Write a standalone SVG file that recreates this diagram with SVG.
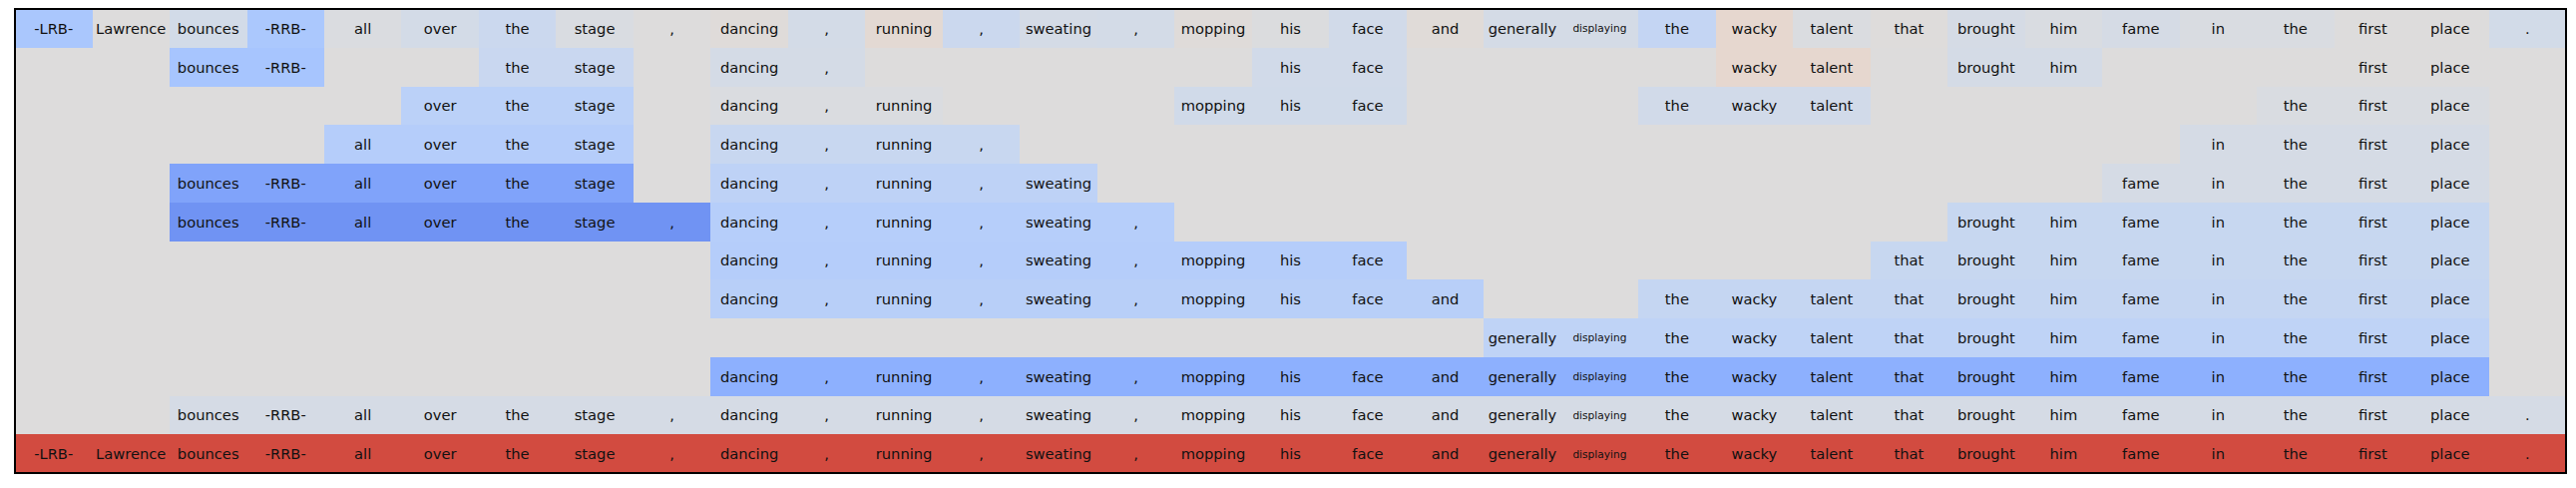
<svg xmlns="http://www.w3.org/2000/svg" width="2582" height="489" viewBox="0 0 2582 489">
<style>
text{font-family:"DejaVu Sans","Noto Sans",sans-serif;font-size:14.7px;text-anchor:middle;dominant-baseline:central;fill:#111}
text.s{font-size:10.6px}
rect{shape-rendering:crispEdges}
</style>
<rect x="0" y="0" width="2582" height="489" fill="#ffffff"/>
<rect x="15" y="9" width="2557" height="465" fill="#dddcdc"/>
<g id="row0" transform="translate(0,9)">
<rect x="15" y="0" width="77.5" height="38.75" fill="#aac7fd"/>
<rect x="92.5" y="0" width="77.5" height="38.75" fill="#dddcdc"/>
<rect x="170" y="0" width="77.5" height="38.75" fill="#d2dbe8"/>
<rect x="247.5" y="0" width="77.4" height="38.75" fill="#abc8fd"/>
<rect x="324.9" y="0" width="77.5" height="38.75" fill="#dadce0"/>
<rect x="402.4" y="0" width="77.5" height="38.75" fill="#d3dbe7"/>
<rect x="479.9" y="0" width="77.5" height="38.75" fill="#cbd8ee"/>
<rect x="557.4" y="0" width="77.5" height="38.75" fill="#d9dce1"/>
<rect x="634.9" y="0" width="77.5" height="38.75" fill="#dddcdc"/>
<rect x="712.4" y="0" width="77.5" height="38.75" fill="#dfdbd9"/>
<rect x="789.9" y="0" width="77.4" height="38.75" fill="#d3dbe7"/>
<rect x="867.3" y="0" width="77.5" height="38.75" fill="#e3d9d3"/>
<rect x="944.8" y="0" width="77.5" height="38.75" fill="#cbd8ee"/>
<rect x="1022.3" y="0" width="77.5" height="38.75" fill="#d4dbe6"/>
<rect x="1099.8" y="0" width="77.5" height="38.75" fill="#d3dbe7"/>
<rect x="1177.3" y="0" width="77.5" height="38.75" fill="#dfdbd9"/>
<rect x="1254.8" y="0" width="77.4" height="38.75" fill="#dbdcde"/>
<rect x="1332.2" y="0" width="77.5" height="38.75" fill="#d1dae9"/>
<rect x="1409.7" y="0" width="77.5" height="38.75" fill="#e0dbd8"/>
<rect x="1487.2" y="0" width="77.5" height="38.75" fill="#d4dbe6"/>
<rect x="1564.7" y="0" width="77.5" height="38.75" fill="#d4dbe6"/>
<rect x="1642.2" y="0" width="77.5" height="38.75" fill="#c4d5f3"/>
<rect x="1719.7" y="0" width="77.5" height="38.75" fill="#e6d7cf"/>
<rect x="1797.2" y="0" width="77.4" height="38.75" fill="#dadce0"/>
<rect x="1874.6" y="0" width="77.5" height="38.75" fill="#dedcdb"/>
<rect x="1952.1" y="0" width="77.5" height="38.75" fill="#d5dbe5"/>
<rect x="2029.6" y="0" width="77.5" height="38.75" fill="#d9dce1"/>
<rect x="2107.1" y="0" width="77.5" height="38.75" fill="#d5dbe5"/>
<rect x="2184.6" y="0" width="77.5" height="38.75" fill="#d9dce1"/>
<rect x="2262.1" y="0" width="77.5" height="38.75" fill="#d9dce1"/>
<rect x="2339.6" y="0" width="77.4" height="38.75" fill="#dddcdc"/>
<rect x="2417" y="0" width="77.5" height="38.75" fill="#dddcdc"/>
<rect x="2494.5" y="0" width="77.5" height="38.75" fill="#d2dbe8"/>
<text x="53.7" y="19.4">-LRB-</text><text x="131.2" y="19.4">Lawrence</text><text x="208.7" y="19.4">bounces</text><text x="286.2" y="19.4">-RRB-</text><text x="363.7" y="19.4">all</text><text x="441.2" y="19.4">over</text><text x="518.6" y="19.4">the</text><text x="596.1" y="19.4">stage</text><text x="673.6" y="19.4">,</text><text x="751.1" y="19.4">dancing</text><text x="828.6" y="19.4">,</text><text x="906.1" y="19.4">running</text><text x="983.6" y="19.4">,</text><text x="1061" y="19.4">sweating</text><text x="1138.5" y="19.4">,</text><text x="1216" y="19.4">mopping</text><text x="1293.5" y="19.4">his</text><text x="1371" y="19.4">face</text><text x="1448.5" y="19.4">and</text><text x="1526" y="19.4">generally</text><text class="s" x="1603.4" y="19.4">displaying</text><text x="1680.9" y="19.4">the</text><text x="1758.4" y="19.4">wacky</text><text x="1835.9" y="19.4">talent</text><text x="1913.4" y="19.4">that</text><text x="1990.9" y="19.4">brought</text><text x="2068.4" y="19.4">him</text><text x="2145.8" y="19.4">fame</text><text x="2223.3" y="19.4">in</text><text x="2300.8" y="19.4">the</text><text x="2378.3" y="19.4">first</text><text x="2455.8" y="19.4">place</text><text x="2533.3" y="19.4">.</text>
</g>
<g id="row1" transform="translate(0,47.75)">
<rect x="170" y="0" width="154.9" height="38.75" fill="#a7c5fe"/>
<rect x="479.9" y="0" width="155" height="38.75" fill="#c9d7f0"/>
<rect x="712.4" y="0" width="154.9" height="38.75" fill="#d4dbe6"/>
<rect x="1254.8" y="0" width="154.9" height="38.75" fill="#d1dae9"/>
<rect x="1719.7" y="0" width="154.9" height="38.75" fill="#e6d7cf"/>
<rect x="1952.1" y="0" width="155" height="38.75" fill="#d4dbe6"/>
<text x="208.7" y="19.4">bounces</text><text x="286.2" y="19.4">-RRB-</text><text x="518.6" y="19.4">the</text><text x="596.1" y="19.4">stage</text><text x="751.1" y="19.4">dancing</text><text x="828.6" y="19.4">,</text><text x="1293.5" y="19.4">his</text><text x="1371" y="19.4">face</text><text x="1758.4" y="19.4">wacky</text><text x="1835.9" y="19.4">talent</text><text x="1990.9" y="19.4">brought</text><text x="2068.4" y="19.4">him</text><text x="2378.3" y="19.4">first</text><text x="2455.8" y="19.4">place</text>
</g>
<g id="row2" transform="translate(0,86.5)">
<rect x="402.4" y="0" width="232.5" height="38.75" fill="#bbd1f8"/>
<rect x="712.4" y="0" width="232.4" height="38.75" fill="#dadce0"/>
<rect x="1177.3" y="0" width="232.4" height="38.75" fill="#d0dae9"/>
<rect x="1642.2" y="0" width="232.4" height="38.75" fill="#d1dae9"/>
<rect x="2262.1" y="0" width="232.4" height="38.75" fill="#d9dce1"/>
<text x="441.2" y="19.4">over</text><text x="518.6" y="19.4">the</text><text x="596.1" y="19.4">stage</text><text x="751.1" y="19.4">dancing</text><text x="828.6" y="19.4">,</text><text x="906.1" y="19.4">running</text><text x="1216" y="19.4">mopping</text><text x="1293.5" y="19.4">his</text><text x="1371" y="19.4">face</text><text x="1680.9" y="19.4">the</text><text x="1758.4" y="19.4">wacky</text><text x="1835.9" y="19.4">talent</text><text x="2300.8" y="19.4">the</text><text x="2378.3" y="19.4">first</text><text x="2455.8" y="19.4">place</text>
</g>
<g id="row3" transform="translate(0,125.25)">
<rect x="324.9" y="0" width="310" height="38.75" fill="#b5cdfa"/>
<rect x="712.4" y="0" width="309.9" height="38.75" fill="#c8d7f0"/>
<rect x="2184.6" y="0" width="309.9" height="38.75" fill="#d5dbe5"/>
<text x="363.7" y="19.4">all</text><text x="441.2" y="19.4">over</text><text x="518.6" y="19.4">the</text><text x="596.1" y="19.4">stage</text><text x="751.1" y="19.4">dancing</text><text x="828.6" y="19.4">,</text><text x="906.1" y="19.4">running</text><text x="983.6" y="19.4">,</text><text x="2223.3" y="19.4">in</text><text x="2300.8" y="19.4">the</text><text x="2378.3" y="19.4">first</text><text x="2455.8" y="19.4">place</text>
</g>
<g id="row4" transform="translate(0,164)">
<rect x="170" y="0" width="464.9" height="38.75" fill="#80a3fa"/>
<rect x="712.4" y="0" width="387.4" height="38.75" fill="#bed2f6"/>
<rect x="2107.1" y="0" width="387.4" height="38.75" fill="#d5dbe5"/>
<text x="208.7" y="19.4">bounces</text><text x="286.2" y="19.4">-RRB-</text><text x="363.7" y="19.4">all</text><text x="441.2" y="19.4">over</text><text x="518.6" y="19.4">the</text><text x="596.1" y="19.4">stage</text><text x="751.1" y="19.4">dancing</text><text x="828.6" y="19.4">,</text><text x="906.1" y="19.4">running</text><text x="983.6" y="19.4">,</text><text x="1061" y="19.4">sweating</text><text x="2145.8" y="19.4">fame</text><text x="2223.3" y="19.4">in</text><text x="2300.8" y="19.4">the</text><text x="2378.3" y="19.4">first</text><text x="2455.8" y="19.4">place</text>
</g>
<g id="row5" transform="translate(0,202.75)">
<rect x="170" y="0" width="542.4" height="38.75" fill="#7093f3"/>
<rect x="712.4" y="0" width="464.9" height="38.75" fill="#b6cefa"/>
<rect x="1952.1" y="0" width="542.4" height="38.75" fill="#c7d7f0"/>
<text x="208.7" y="19.4">bounces</text><text x="286.2" y="19.4">-RRB-</text><text x="363.7" y="19.4">all</text><text x="441.2" y="19.4">over</text><text x="518.6" y="19.4">the</text><text x="596.1" y="19.4">stage</text><text x="673.6" y="19.4">,</text><text x="751.1" y="19.4">dancing</text><text x="828.6" y="19.4">,</text><text x="906.1" y="19.4">running</text><text x="983.6" y="19.4">,</text><text x="1061" y="19.4">sweating</text><text x="1138.5" y="19.4">,</text><text x="1990.9" y="19.4">brought</text><text x="2068.4" y="19.4">him</text><text x="2145.8" y="19.4">fame</text><text x="2223.3" y="19.4">in</text><text x="2300.8" y="19.4">the</text><text x="2378.3" y="19.4">first</text><text x="2455.8" y="19.4">place</text>
</g>
<g id="row6" transform="translate(0,241.5)">
<rect x="712.4" y="0" width="697.3" height="38.75" fill="#b5cdfa"/>
<rect x="1874.6" y="0" width="619.9" height="38.75" fill="#c7d7f0"/>
<text x="751.1" y="19.4">dancing</text><text x="828.6" y="19.4">,</text><text x="906.1" y="19.4">running</text><text x="983.6" y="19.4">,</text><text x="1061" y="19.4">sweating</text><text x="1138.5" y="19.4">,</text><text x="1216" y="19.4">mopping</text><text x="1293.5" y="19.4">his</text><text x="1371" y="19.4">face</text><text x="1913.4" y="19.4">that</text><text x="1990.9" y="19.4">brought</text><text x="2068.4" y="19.4">him</text><text x="2145.8" y="19.4">fame</text><text x="2223.3" y="19.4">in</text><text x="2300.8" y="19.4">the</text><text x="2378.3" y="19.4">first</text><text x="2455.8" y="19.4">place</text>
</g>
<g id="row7" transform="translate(0,280.25)">
<rect x="712.4" y="0" width="774.8" height="38.75" fill="#b8cff8"/>
<rect x="1642.2" y="0" width="852.3" height="38.75" fill="#c5d6f2"/>
<text x="751.1" y="19.4">dancing</text><text x="828.6" y="19.4">,</text><text x="906.1" y="19.4">running</text><text x="983.6" y="19.4">,</text><text x="1061" y="19.4">sweating</text><text x="1138.5" y="19.4">,</text><text x="1216" y="19.4">mopping</text><text x="1293.5" y="19.4">his</text><text x="1371" y="19.4">face</text><text x="1448.5" y="19.4">and</text><text x="1680.9" y="19.4">the</text><text x="1758.4" y="19.4">wacky</text><text x="1835.9" y="19.4">talent</text><text x="1913.4" y="19.4">that</text><text x="1990.9" y="19.4">brought</text><text x="2068.4" y="19.4">him</text><text x="2145.8" y="19.4">fame</text><text x="2223.3" y="19.4">in</text><text x="2300.8" y="19.4">the</text><text x="2378.3" y="19.4">first</text><text x="2455.8" y="19.4">place</text>
</g>
<g id="row8" transform="translate(0,319)">
<rect x="1487.2" y="0" width="1007.3" height="38.75" fill="#bfd3f6"/>
<text x="1526" y="19.4">generally</text><text class="s" x="1603.4" y="19.4">displaying</text><text x="1680.9" y="19.4">the</text><text x="1758.4" y="19.4">wacky</text><text x="1835.9" y="19.4">talent</text><text x="1913.4" y="19.4">that</text><text x="1990.9" y="19.4">brought</text><text x="2068.4" y="19.4">him</text><text x="2145.8" y="19.4">fame</text><text x="2223.3" y="19.4">in</text><text x="2300.8" y="19.4">the</text><text x="2378.3" y="19.4">first</text><text x="2455.8" y="19.4">place</text>
</g>
<g id="row9" transform="translate(0,357.75)">
<rect x="712.4" y="0" width="1782.1" height="38.75" fill="#8db0fe"/>
<text x="751.1" y="19.4">dancing</text><text x="828.6" y="19.4">,</text><text x="906.1" y="19.4">running</text><text x="983.6" y="19.4">,</text><text x="1061" y="19.4">sweating</text><text x="1138.5" y="19.4">,</text><text x="1216" y="19.4">mopping</text><text x="1293.5" y="19.4">his</text><text x="1371" y="19.4">face</text><text x="1448.5" y="19.4">and</text><text x="1526" y="19.4">generally</text><text class="s" x="1603.4" y="19.4">displaying</text><text x="1680.9" y="19.4">the</text><text x="1758.4" y="19.4">wacky</text><text x="1835.9" y="19.4">talent</text><text x="1913.4" y="19.4">that</text><text x="1990.9" y="19.4">brought</text><text x="2068.4" y="19.4">him</text><text x="2145.8" y="19.4">fame</text><text x="2223.3" y="19.4">in</text><text x="2300.8" y="19.4">the</text><text x="2378.3" y="19.4">first</text><text x="2455.8" y="19.4">place</text>
</g>
<g id="row10" transform="translate(0,396.5)">
<rect x="170" y="0" width="2402" height="38.75" fill="#d5dbe5"/>
<text x="208.7" y="19.4">bounces</text><text x="286.2" y="19.4">-RRB-</text><text x="363.7" y="19.4">all</text><text x="441.2" y="19.4">over</text><text x="518.6" y="19.4">the</text><text x="596.1" y="19.4">stage</text><text x="673.6" y="19.4">,</text><text x="751.1" y="19.4">dancing</text><text x="828.6" y="19.4">,</text><text x="906.1" y="19.4">running</text><text x="983.6" y="19.4">,</text><text x="1061" y="19.4">sweating</text><text x="1138.5" y="19.4">,</text><text x="1216" y="19.4">mopping</text><text x="1293.5" y="19.4">his</text><text x="1371" y="19.4">face</text><text x="1448.5" y="19.4">and</text><text x="1526" y="19.4">generally</text><text class="s" x="1603.4" y="19.4">displaying</text><text x="1680.9" y="19.4">the</text><text x="1758.4" y="19.4">wacky</text><text x="1835.9" y="19.4">talent</text><text x="1913.4" y="19.4">that</text><text x="1990.9" y="19.4">brought</text><text x="2068.4" y="19.4">him</text><text x="2145.8" y="19.4">fame</text><text x="2223.3" y="19.4">in</text><text x="2300.8" y="19.4">the</text><text x="2378.3" y="19.4">first</text><text x="2455.8" y="19.4">place</text><text x="2533.3" y="19.4">.</text>
</g>
<g id="row11" transform="translate(0,435.25)">
<rect x="15" y="0" width="2557" height="38.75" fill="#d24b40"/>
<text x="53.7" y="19.4">-LRB-</text><text x="131.2" y="19.4">Lawrence</text><text x="208.7" y="19.4">bounces</text><text x="286.2" y="19.4">-RRB-</text><text x="363.7" y="19.4">all</text><text x="441.2" y="19.4">over</text><text x="518.6" y="19.4">the</text><text x="596.1" y="19.4">stage</text><text x="673.6" y="19.4">,</text><text x="751.1" y="19.4">dancing</text><text x="828.6" y="19.4">,</text><text x="906.1" y="19.4">running</text><text x="983.6" y="19.4">,</text><text x="1061" y="19.4">sweating</text><text x="1138.5" y="19.4">,</text><text x="1216" y="19.4">mopping</text><text x="1293.5" y="19.4">his</text><text x="1371" y="19.4">face</text><text x="1448.5" y="19.4">and</text><text x="1526" y="19.4">generally</text><text class="s" x="1603.4" y="19.4">displaying</text><text x="1680.9" y="19.4">the</text><text x="1758.4" y="19.4">wacky</text><text x="1835.9" y="19.4">talent</text><text x="1913.4" y="19.4">that</text><text x="1990.9" y="19.4">brought</text><text x="2068.4" y="19.4">him</text><text x="2145.8" y="19.4">fame</text><text x="2223.3" y="19.4">in</text><text x="2300.8" y="19.4">the</text><text x="2378.3" y="19.4">first</text><text x="2455.8" y="19.4">place</text><text x="2533.3" y="19.4">.</text>
</g>
<g id="connectors"></g>
<rect x="15" y="9" width="2557" height="465" fill="none" stroke="#000" stroke-width="1.2"/>
</svg>
